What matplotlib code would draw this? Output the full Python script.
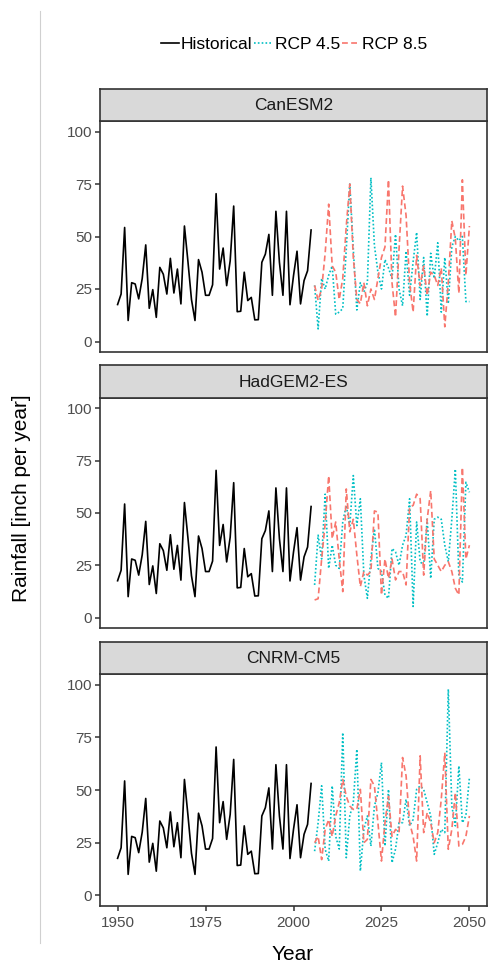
import numpy as np
import matplotlib
matplotlib.use("Agg")
import matplotlib.pyplot as plt
from matplotlib.lines import Line2D

plt.rcParams['font.family'] = ['Liberation Sans', 'DejaVu Sans']

# annual rainfall, inch per year
hist_years = list(range(1950, 2006))
hist_rain = [17.6, 22.6, 54.3, 10.0, 28.0, 27.4, 20.3, 30.0, 46.0, 15.8,
             24.7, 11.5, 35.3, 32.0, 22.6, 39.6, 23.1, 34.5, 17.9, 55.0,
             38.0, 20.0, 10.0, 39.0, 33.0, 22.0, 22.0, 27.0, 70.4, 34.5,
             44.5, 26.6, 38.4, 64.5, 14.2, 14.4, 33.0, 19.5, 21.0, 10.3,
             10.4, 37.7, 41.6, 51.0, 22.0, 62.0, 37.7, 22.0, 62.0, 17.5,
             31.3, 43.0, 17.9, 29.0, 33.7, 53.1]

fut_years = list(range(2006, 2051))

models = ['CanESM2', 'HadGEM2-ES', 'CNRM-CM5']

rcp45 = {
    'CanESM2': [26.7, 6.0, 30.0, 25.0, 31.5, 36.0, 13.0, 14.0, 15.7, 44.0,
                75.0, 44.0, 15.0, 28.0, 23.6, 28.0, 78.0, 45.7, 33.0, 25.0,
                39.0, 35.0, 30.0, 51.0, 25.0, 17.0, 43.0, 22.0, 38.0, 52.0,
                20.0, 40.0, 12.0, 42.0, 30.0, 47.0, 14.0, 40.0, 18.0, 45.0,
                50.0, 48.0, 50.0, 19.0, 19.0],
    'HadGEM2-ES': [15.6, 39.4, 28.0, 59.0, 23.5, 34.6, 25.0, 23.5, 45.7, 53.6,
                   44.0, 67.9, 44.0, 56.8, 20.3, 9.2, 28.0, 42.5, 23.5, 22.0,
                   10.8, 9.2, 33.0, 31.4, 25.0, 34.6, 39.3, 56.8, 5.3, 45.7,
                   26.7, 25.0, 47.0, 18.7, 47.0, 48.0, 47.0, 34.6, 26.7, 47.0,
                   71.0, 20.0, 17.0, 64.7, 59.9],
    'CNRM-CM5': [21.0, 34.5, 52.0, 21.9, 16.3, 52.0, 28.0, 22.0, 77.2, 17.9,
                 37.7, 44.0, 69.3, 11.6, 31.3, 37.7, 23.4, 42.4, 48.7, 63.0,
                 23.4, 50.3, 15.5, 22.0, 34.5, 34.5, 45.6, 33.0, 36.0, 50.3,
                 51.9, 50.3, 44.0, 37.7, 19.5, 25.0, 31.3, 29.8, 97.8, 42.4,
                 33.0, 61.4, 34.5, 37.7, 55.9],
}

rcp85 = {
    'CanESM2': [26.7, 19.6, 25.0, 42.0, 65.4, 36.0, 33.0, 20.0, 30.0, 55.0,
                75.0, 40.0, 20.0, 18.0, 28.0, 17.0, 25.0, 20.0, 30.0, 40.0,
                45.0, 77.0, 28.0, 11.7, 44.0, 74.0, 60.0, 28.0, 14.0, 41.0,
                26.7, 36.0, 22.0, 33.0, 31.5, 26.7, 35.0, 7.0, 28.0, 57.5,
                49.0, 23.0, 77.0, 31.5, 55.0],
    'HadGEM2-ES': [8.4, 9.0, 28.0, 45.0, 67.8, 37.7, 45.7, 28.0, 12.4, 61.5,
                   41.0, 47.0, 30.0, 14.8, 22.0, 20.3, 22.0, 51.0, 50.4, 10.8,
                   28.0, 18.7, 28.0, 18.0, 22.0, 22.0, 15.6, 52.8, 53.6, 59.0,
                   56.8, 20.3, 47.0, 60.7, 28.0, 25.0, 22.0, 25.0, 26.7, 22.0,
                   14.0, 10.8, 71.8, 28.0, 34.6],
    'CNRM-CM5': [25.0, 28.0, 17.0, 31.3, 36.0, 28.0, 37.7, 44.0, 55.0, 47.0,
                 42.4, 40.8, 40.8, 50.3, 25.0, 26.6, 55.0, 52.0, 34.5, 16.3,
                 34.5, 47.0, 28.0, 31.3, 29.8, 65.4, 56.7, 34.5, 28.0, 16.3,
                 66.2, 29.8, 39.3, 34.5, 25.0, 29.8, 45.6, 67.7, 21.9, 31.3,
                 48.7, 23.4, 24.2, 28.0, 37.7],
}

W, H = 488, 974
fig = plt.figure(figsize=(W / 100, H / 100), dpi=100)

# panel rows in pixels: (strip top, panel top, panel bottom)
rows = [(89, 121, 352), (365, 398, 628), (642, 674, 906)]
left_px, right_px = 100, 487

frame_col = '#333333'
tick_col = '#4D4D4D'
dot = (0, (1, 1.3))
dash = (0, (3.5, 2))

for i, (model, (s_top, p_top, p_bot)) in enumerate(zip(models, rows)):
    ax = fig.add_axes([left_px / W, 1 - p_bot / H,
                       (right_px - left_px) / W, (p_bot - p_top) / H])
    ax.plot(hist_years, hist_rain, color='black', lw=1.2)
    ax.plot(fut_years, rcp45[model], color='#00BFC4', lw=1.2, ls=dot)
    ax.plot(fut_years, rcp85[model], color='#F8766D', lw=1.2, ls=dash)
    ax.set_xlim(1945, 2055)
    ax.set_ylim(-5, 105)
    ax.set_yticks([0, 25, 50, 75, 100])
    ax.set_xticks([1950, 1975, 2000, 2025, 2050])
    for sp in ax.spines.values():
        sp.set_color(frame_col)
        sp.set_linewidth(1.2)
    ax.tick_params(axis='both', colors=frame_col, labelcolor=tick_col,
                   labelsize=11, length=3.5, width=1.1)
    ax.tick_params(axis='y', pad=2)
    ax.tick_params(axis='x', pad=4)
    if i < 2:
        ax.tick_params(axis='x', bottom=False, labelbottom=False)

    # facet strip
    st = fig.add_axes([left_px / W, 1 - p_top / H,
                       (right_px - left_px) / W, (p_top - s_top) / H])
    st.set_facecolor('#D9D9D9')
    st.set_xticks([])
    st.set_yticks([])
    for sp in st.spines.values():
        sp.set_color(frame_col)
        sp.set_linewidth(1.2)
    st.text(0.5, 0.47, model, ha='center', va='center', fontsize=12.5,
            color='#1A1A1A', transform=st.transAxes)

fig.text(293 / W, 1 - 955 / H, 'Year', ha='center', va='center', fontsize=15)
fig.text(22 / W, 1 - 498 / H, 'Rainfall [inch per year]', ha='center',
         va='center', rotation=90, fontsize=15)

handles = [Line2D([], [], color='black', lw=1.2),
           Line2D([], [], color='#00BFC4', lw=1.2, ls=dot),
           Line2D([], [], color='#F8766D', lw=1.2, ls=dash)]
fig.legend(handles, ['Historical', 'RCP 4.5', 'RCP 8.5'], ncol=3,
           loc='center', bbox_to_anchor=(294 / W, 1 - 44 / H), frameon=False,
           fontsize=12.5, handlelength=1.05, handletextpad=0.12,
           columnspacing=0.1, borderpad=0)

# thin page rule on the left
fig.add_artist(Line2D([40 / W, 40 / W], [1 - 11 / H, 1 - 943 / H],
                      color='#D0D0D0', lw=0.8, transform=fig.transFigure))

fig.savefig('out.png', dpi=100)
